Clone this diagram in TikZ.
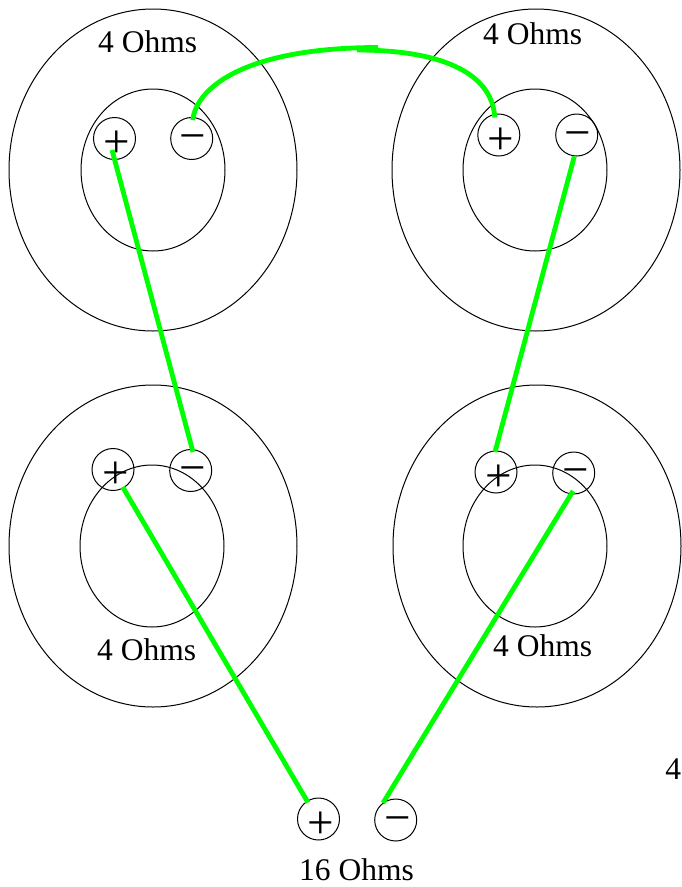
\documentclass[tikz,border=0pt]{standalone}
\usepackage{fontspec}
\setmainfont{Liberation Serif}
\usetikzlibrary{shapes.geometric,calc}
\tikzset{
  x=1pt,y=-1pt,
  outer/.style={draw=black,ellipse,line width=1pt,inner sep=0pt,minimum width=288pt,minimum height=322pt},
  inner/.style={draw=black,ellipse,line width=1pt,inner sep=0pt,minimum width=144pt,minimum height=162pt},
  term/.style={draw=black,circle,line width=1pt,inner sep=0pt,minimum size=42pt},
  sign/.style={inner sep=0pt,anchor=base,font=\fontsize{47}{47}\selectfont},
  lab/.style={inner sep=0pt,anchor=base west,font=\fontsize{31.5}{32}\selectfont},
  wire/.style={draw={rgb,255:red,0;green,255;blue,0},line width=4.8pt},
}
\begin{document}
\begin{tikzpicture}
\useasboundingbox (0,0) rectangle (681,887);
\node[outer] (tlo) at (153,170) {};
\node[inner] (tli) at (153,170) {};
\node[outer] (tro) at (536,170) {};
\node[inner] (tri) at (535,170) {};
\node[outer] (blo) at (153,546) {};
\node[inner] (bli) at (152,546) {};
\node[outer] (bro) at (537,546) {};
\node[inner] (bri) at (535,546) {};
\node[term] (tlp) at (114.5,138.5) {};
\node[term] (tlm) at (191.7,138.5) {};
\node[term] (trp) at (498.8,135) {};
\node[term] (trm) at (576.7,135) {};
\node[term] (blp) at (113,469.5) {};
\node[term] (blm) at (190.7,470.5) {};
\node[term] (brp) at (496,472) {};
\node[term] (brm) at (573.7,473) {};
\node[term] (op) at (318.5,819) {};
\node[term] (om) at (395.7,820) {};
\node[sign] (s1) at (116.7,157.2) {+};
\node[sign] (s2) at (193,151.5) {−};
\node[sign] (s3) at (501,154.2) {+};
\node[sign] (s4) at (577.7,148.8) {−};
\node[sign] (s5) at (116,488.2) {+};
\node[sign] (s6) at (192.7,483.5) {−};
\node[sign] (s7) at (498.7,491.2) {+};
\node[sign] (s8) at (575.3,485.8) {−};
\node[sign] (s9) at (320.7,838.2) {+};
\node[sign] (s10) at (397.3,833.8) {−};
\node[lab] (l1) at (98,52) {4 Ohms};
\node[lab] (l2) at (483,44) {4 Ohms};
\node[lab] (l3) at (97,660) {4 Ohms};
\node[lab] (l4) at (493,656) {4 Ohms};
\node[lab] (l5) at (299,880) {16 Ohms};
\node[lab] (l6) at (665.2,779) {4};
\draw[wire] ($(tlp)+(-2.5,11.5)$) -- ($(blm)+(2.3,-18.5)$);
\draw[wire] ($(trm)+(-2.4,21.5)$) -- ($(brp)+(-1,-20)$);
\draw[wire] ($(blp)+(9.7,17.5)$) -- ($(op)+(-10.5,-16.5)$);
\draw[wire] ($(brm)+(-0.7,18)$) -- ($(om)+(-12.7,-17)$);
\coordinate (peak) at (378,47.5);
\coordinate (peakb) at (357,50);
\draw[wire] ($(tlm)+(1,-18.5)$) .. controls (197,85) and (250,47.5) .. (peak);
\draw[wire] (peakb) .. controls (440,50) and (492,72) .. ($(trp)+(-4,-17.5)$);
\end{tikzpicture}
\end{document}
